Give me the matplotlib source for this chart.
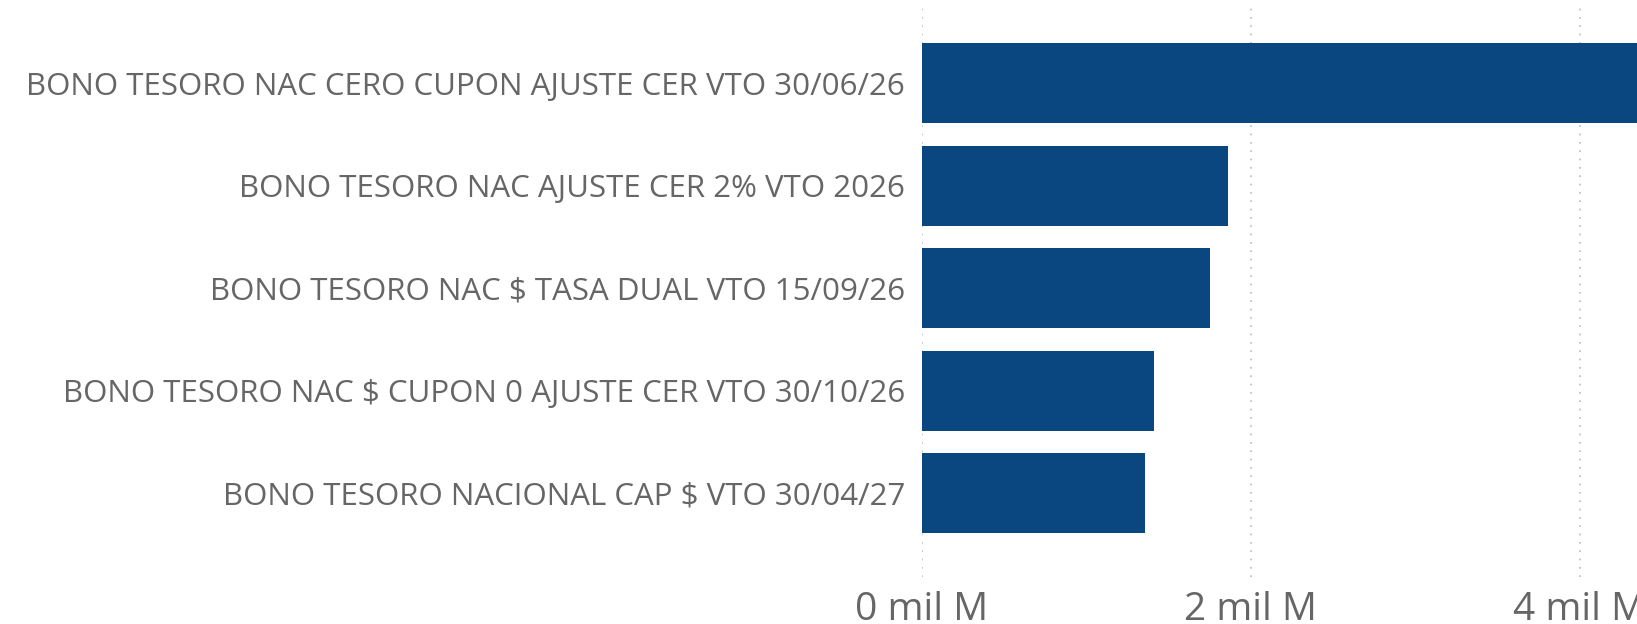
import matplotlib
matplotlib.use("Agg")
import matplotlib.pyplot as plt

categories = [
    "BONO TESORO NAC CERO CUPON AJUSTE CER VTO 30/06/26",
    "BONO TESORO NAC AJUSTE CER 2% VTO 2026",
    "BONO TESORO NAC $ TASA DUAL VTO 15/09/26",
    "BONO TESORO NAC $ CUPON 0 AJUSTE CER VTO 30/10/26",
    "BONO TESORO NACIONAL CAP $ VTO 30/04/27",
]
values = [4.60, 1.863, 1.753, 1.413, 1.358]  # mil M
xticks = [0, 2, 4]
xtick_labels = ["0 mil M", "2 mil M", "4 mil M"]

W, H = 1637, 624
fig = plt.figure(figsize=(W / 100, H / 100), dpi=100)
x0 = 921.6
y_top, y_bot = 5, 577
ax = fig.add_axes([x0 / W, 1 - y_bot / H, 1 - x0 / W, (y_bot - y_top) / H])

pos = list(range(len(categories)))
ax.barh(pos, values, height=0.78, color="#0A4780", zorder=2)

ax.set_xlim(0, (W - x0) / 164.5)
ax.set_ylim(4.816, -0.764)
ax.set_yticks(pos)
ax.set_yticklabels(categories)
ax.set_xticks(xticks)
ax.set_xticklabels(xtick_labels)

for s in ax.spines.values():
    s.set_visible(False)
ax.tick_params(axis="y", length=0, pad=12, labelsize=22.5, labelcolor="#666666")
ax.tick_params(axis="x", length=0, pad=10, labelsize=28, labelcolor="#666666")
for t in ax.get_yticklabels() + ax.get_xticklabels():
    t.set_fontfamily(["Open Sans", "DejaVu Sans"])
ax.grid(axis="x", color="#BBBBBB", linestyle=(0, (1, 4)), linewidth=1.2, zorder=0)
ax.grid(axis="y", visible=False)

fig.savefig("out.png", dpi=100)
